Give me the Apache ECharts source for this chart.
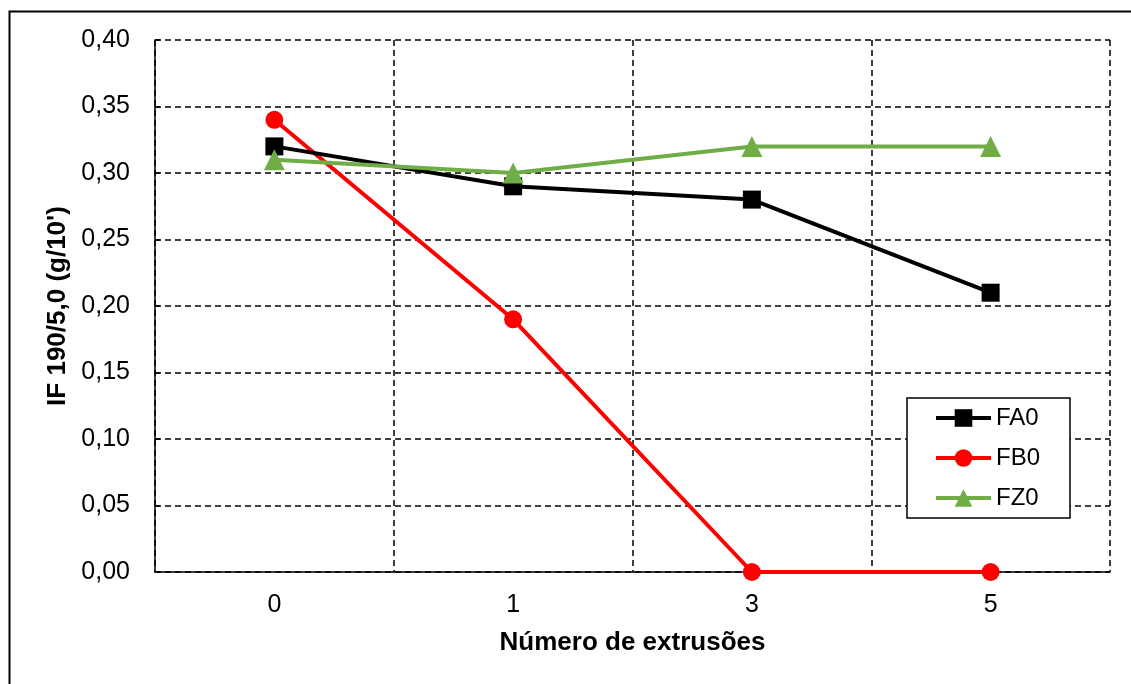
<!DOCTYPE html>
<html><head><meta charset="utf-8">
<script src="https://cdn.jsdelivr.net/npm/echarts@6/dist/echarts.min.js"></script>
<style>html,body{margin:0;padding:0;background:#fff}#c{width:1131px;height:684px}</style>
</head><body><div id="c"></div>
<script>
const categories = ['0','1','3','5'];
const fa0 = [0.32, 0.29, 0.28, 0.21];
const fb0 = [0.34, 0.19, 0.00, 0.00];
const fz0 = [0.31, 0.30, 0.32, 0.32];
const font = '"Liberation Sans", Arial, sans-serif';
const chart = echarts.init(document.getElementById('c'));
chart.setOption({
  animation: false,
  backgroundColor: '#fff',
  graphic: [{type:'rect', left: 7, top: 9, shape:{width:1200, height:800}, style:{fill:'none', stroke:'#000', lineWidth:2}, z:-1}],
  grid: {left:155, right:21, top:40, bottom:112},
  legend: {
    orient:'vertical', left:907, top:398,
    padding:[8,30,8,27], itemGap:16, itemWidth:55, itemHeight:22,
    borderColor:'#000', borderWidth:1.5, backgroundColor:'#fff',
    lineStyle:{width:4},
    textStyle:{fontFamily:font, fontSize:24, color:'#000'},
    data:['FA0','FB0','FZ0']
  },
  xAxis: {
    type:'category', data:categories, boundaryGap:true,
    name:'Número de extrusões', nameLocation:'middle', nameGap:58,
    nameTextStyle:{fontFamily:font, fontSize:26, fontWeight:'bold', color:'#000'},
    axisLine:{lineStyle:{color:'#000', width:1.5}},
    axisTick:{show:false},
    axisLabel:{fontFamily:font, fontSize:25, color:'#000', margin:21},
    splitLine:{show:true, lineStyle:{color:'#000', type:[6,4], width:1.5}}
  },
  yAxis: {
    type:'value', min:0, max:0.4, interval:0.05,
    name:"IF 190/5,0 (g/10')", nameLocation:'middle', nameGap:80,
    nameTextStyle:{fontFamily:font, fontSize:26, fontWeight:'bold', color:'#000'},
    axisLine:{show:true, lineStyle:{color:'#000', width:1.5}},
    axisTick:{show:true, length:5, inside:true, lineStyle:{color:'#000', width:1.5}},
    axisLabel:{fontFamily:font, fontSize:25, color:'#000', margin:25, formatter:v=>v.toFixed(2).replace('.',',')},
    splitLine:{show:true, lineStyle:{color:'#000', type:[6,4], width:1.5}}
  },
  series: [
    {name:'FA0', type:'line', data:fa0, symbol:'rect', symbolSize:18, color:'#000', lineStyle:{width:4, color:'#000'}, itemStyle:{color:'#000'}, z:3},
    {name:'FB0', type:'line', data:fb0, symbol:'circle', symbolSize:18, color:'#ff0000', lineStyle:{width:4, color:'#ff0000'}, itemStyle:{color:'#ff0000'}, z:2},
    {name:'FZ0', type:'line', data:fz0, symbol:'triangle', symbolSize:[21,21], color:'#70ad47', lineStyle:{width:4, color:'#70ad47'}, itemStyle:{color:'#70ad47'}, z:4}
  ]
});
</script></body></html>
